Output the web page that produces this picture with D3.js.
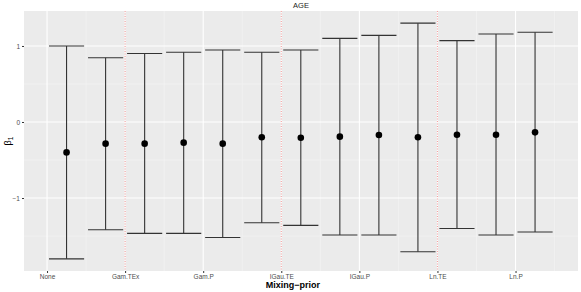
<!DOCTYPE html>
<html>
<head>
<meta charset="utf-8">
<script src="https://cdn.jsdelivr.net/npm/d3@7"></script>
<style>
  body { margin: 0; background: #fff; }
  text { font-family: "Liberation Sans", Arial, sans-serif; }
</style>
</head>
<body>
<div id="chart"></div>
<script>
// position of each estimate on the x axis (between the grid lines)
var positions = [1.5, 2.5, 3.5, 4.5, 5.5, 6.5, 7.5, 8.5, 9.5, 10.5, 11.5, 12.5, 13.5];
var estimates = [-0.40, -0.285, -0.285, -0.272, -0.285, -0.20, -0.207, -0.193, -0.171, -0.20, -0.167, -0.167, -0.136];
var lowers    = [-1.80, -1.417, -1.465, -1.465, -1.52, -1.325, -1.36, -1.487, -1.487, -1.706, -1.40, -1.487, -1.447];
var uppers    = [1.00, 0.846, 0.90, 0.917, 0.947, 0.917, 0.947, 1.10, 1.14, 1.30, 1.07, 1.158, 1.18];

var tickValues = [1, 3, 5, 7, 9, 11, 13];
var tickLabels = ["None", "Gam.TEx", "Gam.P", "IGau.TE", "IGau.P", "Ln.TE", "Ln.P"];
var minorX = [2, 4, 6, 8, 10, 12, 14];
var separators = [3, 7, 11];
var yTicks = [-1, 0, 1];
var yMinor = [-1.5, -0.5, 0.5];

var width = 581, height = 292;
var margin = {top: 11, right: 3, bottom: 21, left: 24};

var svg = d3.select("#chart").append("svg")
    .attr("width", width)
    .attr("height", height);

var x = d3.scaleLinear().domain([0.41, 14.6]).range([margin.left, width - margin.right]);
var y = d3.scaleLinear().domain([-1.96, 1.46]).range([height - margin.bottom, margin.top]);

//panel background
svg.append("rect")
    .attr("x", margin.left)
    .attr("y", margin.top)
    .attr("width", width - margin.left - margin.right)
    .attr("height", height - margin.top - margin.bottom)
    .style("fill", "#ebebeb");

var grid = svg.append("g");

//minor grid lines
grid.selectAll(".yminor").data(yMinor).enter().append("line")
    .attr("x1", margin.left).attr("x2", width - margin.right)
    .attr("y1", function(d) { return y(d); }).attr("y2", function(d) { return y(d); })
    .style("stroke", "#f5f5f5").style("stroke-width", 0.6);
grid.selectAll(".xminor").data(minorX).enter().append("line")
    .attr("y1", margin.top).attr("y2", height - margin.bottom)
    .attr("x1", function(d) { return x(d); }).attr("x2", function(d) { return x(d); })
    .style("stroke", "#f5f5f5").style("stroke-width", 0.6);

//major grid lines
grid.selectAll(".ymajor").data(yTicks).enter().append("line")
    .attr("x1", margin.left).attr("x2", width - margin.right)
    .attr("y1", function(d) { return y(d); }).attr("y2", function(d) { return y(d); })
    .style("stroke", "#ffffff").style("stroke-width", 1.1);
grid.selectAll(".xmajor").data(tickValues).enter().append("line")
    .attr("y1", margin.top).attr("y2", height - margin.bottom)
    .attr("x1", function(d) { return x(d); }).attr("x2", function(d) { return x(d); })
    .style("stroke", "#ffffff").style("stroke-width", 1.1);

//red dotted separators
svg.selectAll(".sep").data(separators).enter().append("line")
    .attr("y1", margin.top).attr("y2", height - margin.bottom)
    .attr("x1", function(d) { return x(d); }).attr("x2", function(d) { return x(d); })
    .style("stroke", "#f08080").style("stroke-width", 0.8)
    .style("stroke-dasharray", "1,1.5");

//error bars
var data = positions.map(function(p, i) {
    return {pos: p, est: estimates[i], lo: lowers[i], hi: uppers[i]};
});
var halfW = 0.45;
var bars = svg.selectAll(".bar").data(data).enter().append("g");
bars.append("line")
    .attr("x1", function(d) { return x(d.pos); }).attr("x2", function(d) { return x(d.pos); })
    .attr("y1", function(d) { return y(d.lo); }).attr("y2", function(d) { return y(d.hi); })
    .style("stroke", "#333").style("stroke-width", 1.1);
bars.append("line")
    .attr("x1", function(d) { return x(d.pos - halfW); }).attr("x2", function(d) { return x(d.pos + halfW); })
    .attr("y1", function(d) { return y(d.hi); }).attr("y2", function(d) { return y(d.hi); })
    .style("stroke", "#333").style("stroke-width", 1.1);
bars.append("line")
    .attr("x1", function(d) { return x(d.pos - halfW); }).attr("x2", function(d) { return x(d.pos + halfW); })
    .attr("y1", function(d) { return y(d.lo); }).attr("y2", function(d) { return y(d.lo); })
    .style("stroke", "#333").style("stroke-width", 1.1);
bars.append("circle")
    .attr("cx", function(d) { return x(d.pos); })
    .attr("cy", function(d) { return y(d.est); })
    .attr("r", 3.3)
    .style("fill", "#000");

//x axis
var xAxis = d3.axisBottom(x).tickValues(tickValues)
    .tickFormat(function(d, i) { return tickLabels[i]; })
    .tickSize(2).tickPadding(1);
var gx = svg.append("g")
    .attr("transform", "translate(0," + (height - margin.bottom) + ")")
    .call(xAxis);
gx.select(".domain").remove();
gx.selectAll("line").style("stroke", "#333");
gx.selectAll("text").style("font-size", "6.5px").style("fill", "#4d4d4d");

//y axis
var yAxis = d3.axisLeft(y).tickValues(yTicks).tickSize(2).tickPadding(2);
var gy = svg.append("g")
    .attr("transform", "translate(" + margin.left + ",0)")
    .call(yAxis);
gy.select(".domain").remove();
gy.selectAll("line").style("stroke", "#333");
gy.selectAll("text").style("font-size", "6.5px").style("fill", "#4d4d4d")
    .text(function(d) { return d === -1 ? "\u22121" : d; });

//titles
svg.append("text")
    .attr("x", (margin.left + width - margin.right) / 2)
    .attr("y", 8)
    .attr("text-anchor", "middle")
    .style("font-size", "7.5px")
    .style("fill", "#1a1a1a")
    .text("AGE");

svg.append("text")
    .attr("x", (margin.left + width - margin.right) / 2 - 8)
    .attr("y", 288)
    .attr("text-anchor", "middle")
    .style("font-size", "9px")
    .style("font-weight", "bold")
    .text("Mixing\u2212prior");

var yt = svg.append("text")
    .attr("transform", "translate(11," + y(-0.25) + ") rotate(-90)")
    .attr("text-anchor", "middle")
    .style("font-size", "9px");
yt.append("tspan").text("\u03b2");
yt.append("tspan").attr("dy", 2).style("font-size", "6.5px").text("1");
</script>
</body>
</html>
